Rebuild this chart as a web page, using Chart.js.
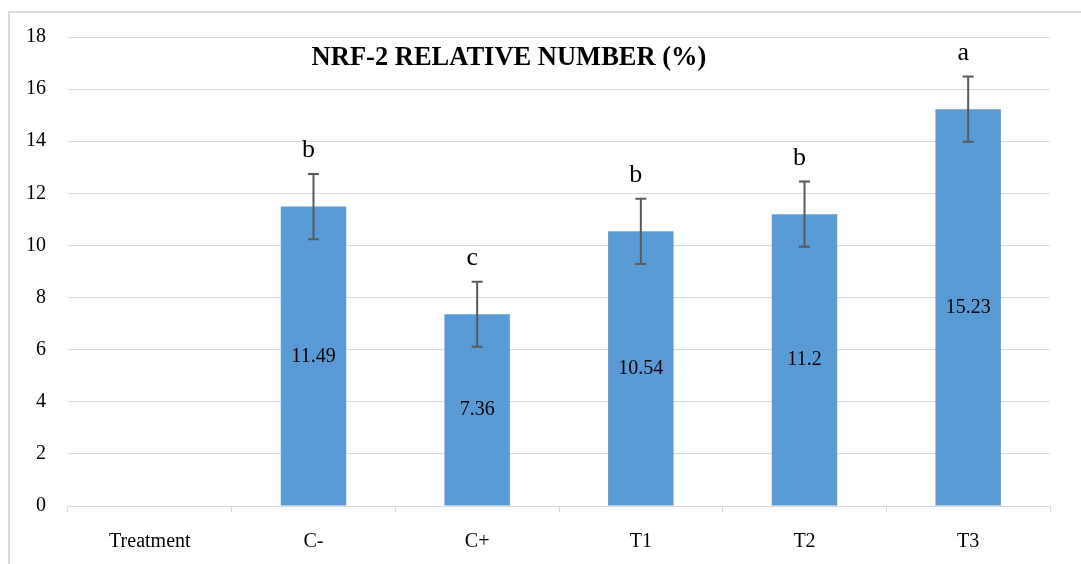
<!DOCTYPE html>
<html lang="en">
<head>
    <meta charset="UTF-8">
    <title>NRF-2 Relative Number</title>
    <script src="https://cdn.jsdelivr.net/npm/chart.js"></script>
    <style>
        body {
            margin: 0;
            background: white;
            overflow: hidden;
        }
        .frame {
            position: absolute;
            left: 8px;
            top: 11px;
            width: 1100px;
            height: 600px;
            border: 2px solid #d9d9d9;
        }
        #barChart {
            position: absolute;
            left: 0;
            top: 0;
        }
    </style>
</head>
<body>
    <div class="frame"></div>
    <canvas id="barChart" width="1081" height="564"></canvas>

    <script>
        let categories = ['Treatment', 'C-', 'C+', 'T1', 'T2', 'T3'];
        let values = [null, 11.49, 7.36, 10.54, 11.2, 15.23];
        let errors = [null, 1.25, 1.25, 1.25, 1.25, 1.25];
        let letters = ['', 'b', 'c', 'b', 'b', 'a'];
        let yTicks = [0, 2, 4, 6, 8, 10, 12, 14, 16, 18];

        let serif = '"Liberation Serif", "Times New Roman", serif';

        // error bars, letters, value labels and the title inside the plot
        let extras = {
            id: 'extras',
            afterDatasetsDraw(chart) {
                let ctx = chart.ctx;
                let meta = chart.getDatasetMeta(0);
                let y = chart.scales.y;
                ctx.save();
                meta.data.forEach((bar, i) => {
                    if (values[i] === null) return;
                    let x = bar.x;

                    // value label in the middle of the bar
                    ctx.fillStyle = '#000';
                    ctx.font = '20px ' + serif;
                    ctx.textAlign = 'center';
                    ctx.textBaseline = 'middle';
                    ctx.fillText(String(values[i]), x, y.getPixelForValue(values[i] / 2));

                    // error bar
                    let top = y.getPixelForValue(values[i] + errors[i]);
                    let bottom = y.getPixelForValue(values[i] - errors[i]);
                    ctx.strokeStyle = '#595959';
                    ctx.lineWidth = 2;
                    ctx.beginPath();
                    ctx.moveTo(x, top);
                    ctx.lineTo(x, bottom);
                    ctx.moveTo(x - 5.5, top);
                    ctx.lineTo(x + 5.5, top);
                    ctx.moveTo(x - 5.5, bottom);
                    ctx.lineTo(x + 5.5, bottom);
                    ctx.stroke();

                    // significance letter
                    ctx.fillStyle = '#000';
                    ctx.font = '26px ' + serif;
                    ctx.textBaseline = 'alphabetic';
                    ctx.fillText(letters[i], x - 5, top - 17);
                });

                ctx.font = 'bold 26.5px ' + serif;
                ctx.textAlign = 'center';
                ctx.textBaseline = 'middle';
                ctx.fillText('NRF-2 RELATIVE NUMBER (%)', 509, 58);
                ctx.restore();
            }
        };

        new Chart(document.getElementById('barChart'), {
            type: 'bar',
            data: {
                labels: categories,
                datasets: [{
                    data: values,
                    backgroundColor: '#5b9bd5',
                    barPercentage: 0.4,
                    categoryPercentage: 1.0
                }]
            },
            options: {
                responsive: false,
                animation: false,
                layout: {
                    padding: { top: 37, right: 31, left: 0, bottom: 0 }
                },
                plugins: {
                    legend: { display: false },
                    tooltip: { enabled: false }
                },
                scales: {
                    x: {
                        offset: true,
                        grid: {
                            offset: true,
                            drawOnChartArea: false,
                            drawTicks: true,
                            tickLength: 6,
                            color: '#d9d9d9'
                        },
                        border: { color: '#d9d9d9', width: 1 },
                        ticks: {
                            color: '#000',
                            font: { family: serif, size: 20 },
                            padding: 18
                        },
                        afterFit(scale) {
                            scale.height = 58;
                        }
                    },
                    y: {
                        min: 0,
                        max: 18,
                        afterBuildTicks(scale) {
                            scale.ticks = yTicks.map(v => ({ value: v }));
                        },
                        grid: {
                            drawTicks: false,
                            color: '#d9d9d9',
                            lineWidth: 1
                        },
                        border: { display: false },
                        ticks: {
                            color: '#000',
                            font: { family: serif, size: 20 },
                            padding: 22
                        },
                        afterFit(scale) {
                            scale.width = 68;
                        }
                    }
                }
            },
            plugins: [extras]
        });
    </script>
</body>
</html>
